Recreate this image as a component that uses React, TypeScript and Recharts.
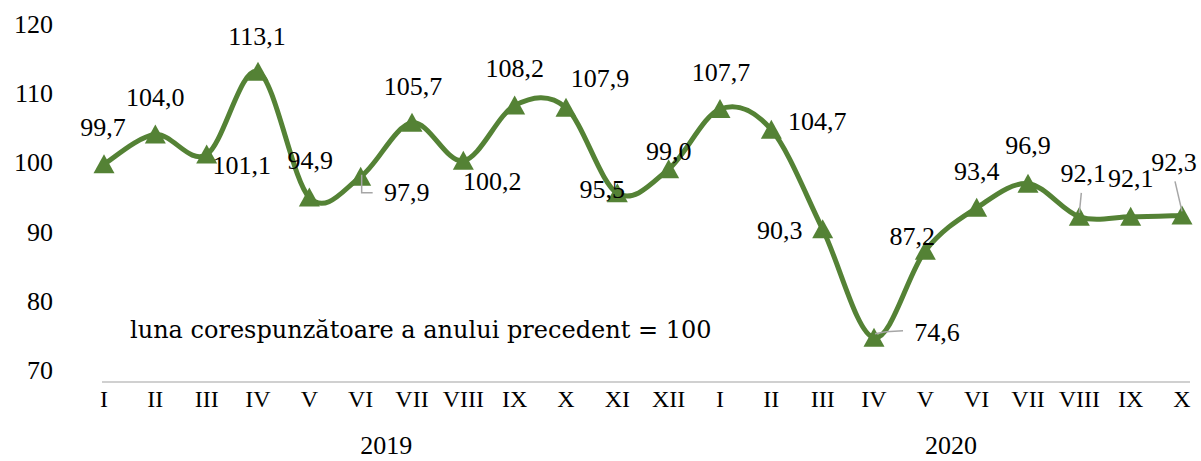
import React from "react";
import { LineChart, Line, XAxis, YAxis, LabelList } from "recharts";

const MONTHS = ["I", "II", "III", "IV", "V", "VI", "VII", "VIII", "IX", "X", "XI", "XII", "I", "II", "III", "IV", "V", "VI", "VII", "VIII", "IX", "X"];
const VALUES = [99.7, 104.0, 101.1, 113.1, 94.9, 97.9, 105.7, 100.2, 108.2, 107.9, 95.5, 99.0, 107.7, 104.7, 90.3, 74.6, 87.2, 93.4, 96.9, 92.1, 92.1, 92.3];
const YEARS = ["2019", "2020"];
const YEAR_MONTHS = [12, 10];
const Y_TICKS = [70, 80, 90, 100, 110, 120];
const NOTE = "luna corespunzătoare a anului precedent = 100";

const GREEN = "#548235";
const SERIF = "'Liberation Serif', 'Times New Roman', serif";

const data = VALUES.map((v, i) => ({ idx: i, month: MONTHS[i], value: v }));
const monthTicks = data.map((d) => d.idx);

// year label sits in the middle of its months
const yearTicks: number[] = [];
let first = 0;
YEAR_MONTHS.forEach((n) => {
  yearTicks.push(first + (n - 1) / 2);
  first += n;
});

// label placement relative to the point (the labels were dragged by hand in the original)
const LABEL_OFFSET: [number, number][] = [
  [-1, -37], [0, -37], [35, 11], [-1, -35], [1, -37], [46, 16], [1, -36], [29, 21],
  [0, -37], [34, -29], [-15, -4], [0, -18], [1, -37], [46, -8], [-43, 1], [63, -5],
  [-13, -14], [0, -36], [0, -38], [4, -43], [0, -38], [-8, -53],
];

// leader lines for moved labels
const LEADERS: Record<number, [number, number][]> = {
  5: [[1, -2], [1, 16], [12, 16]],
  15: [[1, -4], [12, -6], [29, -7]],
  19: [[0, -4], [2, -24]],
  21: [[0, -4], [-7, -34]],
};

const fmt = (v: number) => v.toFixed(1).replace(".", ",");

// Excel style smoothed line (cardinal spline through the points)
function excelCurve(context: any) {
  let pts: [number, number][] = [];
  return {
    areaStart() {},
    areaEnd() {},
    lineStart() {
      pts = [];
    },
    point(x: number, y: number) {
      pts.push([+x, +y]);
    },
    lineEnd() {
      if (!pts.length) return;
      context.moveTo(pts[0][0], pts[0][1]);
      for (let i = 0; i < pts.length - 1; i++) {
        const p0 = pts[i - 1] || pts[i];
        const p1 = pts[i];
        const p2 = pts[i + 1];
        const p3 = pts[i + 2] || p2;
        context.bezierCurveTo(
          p1[0] + (p2[0] - p0[0]) / 6,
          p1[1] + (p2[1] - p0[1]) / 6,
          p2[0] - (p3[0] - p1[0]) / 6,
          p2[1] - (p3[1] - p1[1]) / 6,
          p2[0],
          p2[1]
        );
      }
    },
  };
}

const Triangle = (p: any) => {
  const { cx, cy, index } = p;
  if (cx == null || cy == null) return <g key={index} />;
  return (
    <polygon
      key={index}
      points={`${cx},${cy - 10} ${cx + 10.5},${cy + 9} ${cx - 10.5},${cy + 9}`}
      fill={GREEN}
    />
  );
};

const renderLabel = (p: any) => {
  const { x, y, index, value } = p;
  const [dx, dy] = LABEL_OFFSET[index] || [0, -37];
  const lead = LEADERS[index];
  return (
    <g key={index}>
      {lead && (
        <polyline
          points={lead.map(([a, b]) => `${x + a},${y + b}`).join(" ")}
          fill="none"
          stroke="#a6a6a6"
          strokeWidth={1.5}
        />
      )}
      <text
        x={x + dx}
        y={y + dy}
        textAnchor="middle"
        dominantBaseline="central"
        fontFamily={SERIF}
        fontSize={26}
        fill="#000"
      >
        {fmt(value)}
      </text>
    </g>
  );
};

export default function App() {
  return (
    <div style={{ position: "absolute", left: 0, top: 0, width: 1201, height: 461, background: "#fff" }}>
      <LineChart width={1201} height={461} data={data} margin={{ top: 24, right: 11, bottom: 0, left: 0 }}>
        <XAxis
          xAxisId="main"
          dataKey="idx"
          type="number"
          domain={[0, VALUES.length - 1]}
          ticks={monthTicks}
          tickFormatter={(v: number) => MONTHS[v] ?? ""}
          padding={{ left: 2, right: 8 }}
          height={40}
          axisLine={{ stroke: "#c0c0c0", strokeWidth: 1.5 }}
          tickLine={false}
          tickSize={0}
          tickMargin={8}
          interval={0}
          tick={{ fontFamily: SERIF, fontSize: 24, fill: "#000" }}
        />
        <XAxis
          xAxisId="year"
          dataKey="idx"
          type="number"
          domain={[0, VALUES.length - 1]}
          ticks={yearTicks}
          tickFormatter={(v: number) => YEARS[yearTicks.indexOf(v)] ?? ""}
          padding={{ left: 2, right: 8 }}
          height={39}
          axisLine={false}
          tickLine={false}
          tickSize={0}
          tickMargin={14}
          interval={0}
          tick={{ fontFamily: SERIF, fontSize: 26, fill: "#000" }}
        />
        <YAxis
          domain={[68.2, 120]}
          ticks={Y_TICKS}
          allowDataOverflow
          width={102}
          axisLine={false}
          tickLine={false}
          tickSize={0}
          tickMargin={49}
          tick={{ fontFamily: SERIF, fontSize: 26, fill: "#000" }}
        />
        <Line
          xAxisId="main"
          dataKey="value"
          type={excelCurve as any}
          stroke={GREEN}
          strokeWidth={5}
          dot={Triangle}
          activeDot={false}
          isAnimationActive={false}
        >
          <LabelList dataKey="value" content={renderLabel} />
        </Line>
      </LineChart>
      <svg width={1201} height={461} style={{ position: "absolute", left: 0, top: 0, pointerEvents: "none" }}>
        <text x={130} y={338} fontFamily="'DejaVu Serif', serif" fontSize={24} fill="#000">
          {NOTE}
        </text>
      </svg>
    </div>
  );
}
